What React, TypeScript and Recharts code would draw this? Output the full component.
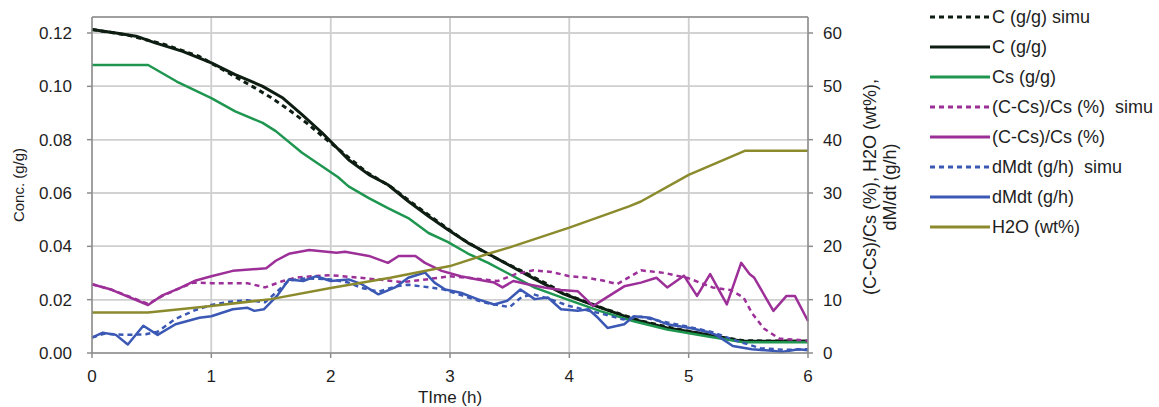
import React from 'react';
import { LineChart, Line, XAxis, YAxis, Legend, CartesianGrid } from 'recharts';

// ---- axis ticks ----
const timeTicks = [0, 1, 2, 3, 4, 5, 6];
const concTicks = [0, 0.02, 0.04, 0.06, 0.08, 0.1, 0.12];
const pctTicks = [0, 10, 20, 30, 40, 50, 60];
const concMax = 0.126;
const pctMax = 63;

// ---- C (g/g) simu ----
const cSimuT = [0, 0.3, 0.6, 0.9, 1.2, 1.35, 1.5, 1.65, 1.8, 1.95, 2.1, 2.3, 2.5, 2.7, 2.9, 3.1, 3.3, 3.5, 3.7, 4.0, 4.3, 4.6, 4.9, 5.2, 5.46, 6];
const cSimuV = [0.1213, 0.1192, 0.1158, 0.1112, 0.1036, 0.0998, 0.0958, 0.0912, 0.0862, 0.0806, 0.0752, 0.0678, 0.0625, 0.0557, 0.0492, 0.0428, 0.0375, 0.033, 0.0285, 0.0215, 0.0165, 0.012, 0.009, 0.0065, 0.0046, 0.0044];

// ---- C (g/g) ----
const cT = [0, 0.2, 0.37, 0.53, 0.76, 1.0, 1.2, 1.43, 1.6, 1.76, 1.93, 2.15, 2.32, 2.48, 2.65, 2.82, 2.98, 3.15, 3.32, 3.5, 3.7, 3.95, 4.26, 4.54, 4.82, 5.15, 5.37, 5.46, 6];
const cV = [0.1213, 0.12, 0.1188, 0.1163, 0.1131, 0.1088, 0.1044, 0.1, 0.0956, 0.0894, 0.0825, 0.0725, 0.0669, 0.0631, 0.0569, 0.0513, 0.0463, 0.0413, 0.0372, 0.0328, 0.028, 0.0222, 0.017, 0.0126, 0.0094, 0.0069, 0.005, 0.0044, 0.0044];

// ---- Cs (g/g) ----
const csT = [0, 0.47, 0.71, 1.0, 1.2, 1.43, 1.54, 1.76, 2.06, 2.15, 2.32, 2.48, 2.65, 2.82, 2.98, 3.15, 3.32, 3.48, 3.71, 3.98, 4.26, 4.54, 4.82, 5.15, 5.46, 6];
const csV = [0.108, 0.108, 0.1018, 0.0956, 0.0906, 0.0863, 0.0832, 0.0751, 0.066, 0.0625, 0.0581, 0.0543, 0.0506, 0.045, 0.0417, 0.0373, 0.0338, 0.03, 0.0245, 0.0201, 0.0157, 0.0119, 0.0088, 0.0063, 0.004, 0.004];

// ---- (C-Cs)/Cs (%) simu ----
const devSimuT = [0, 0.16, 0.47, 0.6, 0.75, 0.85, 1.0, 1.3, 1.45, 1.6, 1.7, 1.85, 2.0, 2.3, 2.6, 2.8, 3.0, 3.2, 3.4, 3.55, 3.7, 3.85, 4.0, 4.15, 4.3, 4.4, 4.6, 4.8, 5.0, 5.2, 5.35, 5.46, 5.53, 5.63, 5.76, 6];
const devSimuV = [12.9, 11.9, 9.2, 10.8, 12.3, 13.2, 13.1, 13.1, 12.3, 13.5, 14.1, 14.4, 14.6, 14.0, 13.3, 13.8, 14.4, 14.0, 13.5, 14.8, 15.5, 15.2, 14.4, 14.1, 13.5, 12.9, 15.5, 15.0, 14.0, 12.3, 11.8, 10.4, 7.5, 4.6, 2.7, 2.3];

// ---- (C-Cs)/Cs (%) ----
const devT = [0, 0.16, 0.47, 0.58, 0.73, 0.87, 1.0, 1.18, 1.46, 1.54, 1.65, 1.82, 2.05, 2.12, 2.32, 2.48, 2.57, 2.71, 2.79, 2.93, 3.09, 3.23, 3.37, 3.44, 3.53, 3.65, 3.79, 3.93, 4.07, 4.2, 4.29, 4.46, 4.6, 4.73, 4.82, 4.96, 5.07, 5.18, 5.32, 5.44, 5.51, 5.55, 5.71, 5.82, 5.89, 6];
const devV = [12.9, 11.9, 9.0, 10.7, 12.1, 13.6, 14.4, 15.4, 15.9, 17.3, 18.6, 19.3, 18.8, 19.0, 18.2, 16.9, 18.2, 18.2, 16.9, 15.4, 14.4, 13.8, 13.2, 12.3, 13.5, 12.9, 12.3, 11.8, 11.6, 8.8, 10.1, 12.5, 13.2, 14.1, 12.3, 14.5, 10.7, 14.8, 9.1, 16.9, 14.8, 14.1, 7.9, 10.7, 10.7, 6.0];

// ---- dMdt (g/h) simu ----
const dmSimuT = [0, 0.1, 0.2, 0.3, 0.45, 0.55, 0.7, 0.86, 1.0, 1.15, 1.3, 1.45, 1.55, 1.65, 1.8, 2.0, 2.15, 2.26, 2.4, 2.55, 2.65, 2.83, 2.95, 3.1, 3.3, 3.5, 3.6, 3.7, 3.85, 4.0, 4.15, 4.3, 4.45, 4.6, 4.8, 5.0, 5.2, 5.4, 5.6, 5.8, 6];
const dmSimuV = [2.9, 3.6, 3.5, 3.4, 3.5, 4.0, 6.4, 8.0, 9.0, 9.6, 9.9, 9.5, 11.5, 13.6, 14.0, 13.8, 13.2, 12.2, 11.5, 12.5, 12.8, 12.3, 11.9, 10.8, 9.4, 8.6, 10.5, 11.0, 10.0, 8.8, 8.0, 7.2, 6.3, 6.8, 5.8, 4.9, 3.9, 2.3, 0.9, 0.6, 0.7];

// ---- dMdt (g/h) ----
const dmT = [0, 0.09, 0.2, 0.3, 0.43, 0.55, 0.7, 0.9, 1.0, 1.18, 1.3, 1.36, 1.44, 1.55, 1.65, 1.77, 1.88, 2.0, 2.15, 2.26, 2.4, 2.54, 2.65, 2.79, 2.87, 2.96, 3.09, 3.23, 3.37, 3.48, 3.59, 3.71, 3.82, 3.93, 4.07, 4.16, 4.24, 4.32, 4.46, 4.54, 4.68, 4.82, 5.01, 5.15, 5.23, 5.37, 5.53, 5.7, 5.78, 5.92, 6];
const dmV = [2.9, 3.8, 3.4, 1.6, 5.1, 3.4, 5.4, 6.6, 6.9, 8.2, 8.5, 7.9, 8.2, 10.7, 13.8, 13.5, 14.4, 13.5, 13.8, 12.9, 11.0, 12.3, 14.1, 15.1, 13.2, 11.9, 11.3, 10.1, 9.1, 9.8, 11.9, 10.1, 10.4, 8.2, 7.9, 8.2, 6.6, 4.7, 5.4, 6.9, 6.6, 5.4, 4.7, 4.0, 3.4, 1.3, 0.7, 0.4, 0.2, 0.7, 0.5];

// ---- H2O (wt%) ----
const h2oT = [0, 0.47, 1.0, 1.5, 2.0, 2.5, 3.0, 3.32, 3.5, 4.0, 4.5, 4.6, 5.0, 5.47, 6];
const h2oV = [7.6, 7.6, 8.8, 10.1, 12.2, 14.1, 16.3, 18.6, 19.8, 23.5, 27.5, 28.4, 33.4, 37.9, 37.9];

const zip = (ts: number[], vs: number[]) => ts.map((t, i) => ({ t, v: vs[i] }));

type Series = { name: string; data: { t: number; v: number }[]; color: string; dash?: string; axis: string; width: number };

const FONT = '"Liberation Sans", Arial, Helvetica, sans-serif';
const AXIS = '#8c8c8c';
const GRID = '#cfcfcf';
const TEXT = '#1e1e1e';

const series: Series[] = [
  { name: 'C (g/g) simu', data: zip(cSimuT, cSimuV), color: '#0e1d12', dash: '5 4', axis: 'left', width: 3 },
  { name: 'C (g/g)', data: zip(cT, cV), color: '#0e1d12', axis: 'left', width: 3 },
  { name: 'Cs (g/g)', data: zip(csT, csV), color: '#1f9650', axis: 'left', width: 2.5 },
  { name: '(C-Cs)/Cs (%)  simu', data: zip(devSimuT, devSimuV), color: '#9c2f98', dash: '5 4', axis: 'right', width: 2.5 },
  { name: '(C-Cs)/Cs (%)', data: zip(devT, devV), color: '#9c2f98', axis: 'right', width: 2.5 },
  { name: 'dMdt (g/h)  simu', data: zip(dmSimuT, dmSimuV), color: '#3a58b4', dash: '5 4', axis: 'right', width: 2.5 },
  { name: 'dMdt (g/h)', data: zip(dmT, dmV), color: '#3a58b4', axis: 'right', width: 2.5 },
  { name: 'H2O (wt%)', data: zip(h2oT, h2oV), color: '#8b8b2e', axis: 'right', width: 2.5 },
];

// gridlines and the top frame edge, built from the tick arrays and drawn through the chart scales
const gridLevels = [...concTicks, concMax];
const gridSeries: Series[] = [
  ...timeTicks.slice(1, -1).map((t) => ({
    name: `grid t=${t}`,
    data: gridLevels.map((c) => ({ t, v: c })),
    color: GRID,
    axis: 'left',
    width: 1.5,
  })),
  ...concTicks.slice(1).map((c) => ({
    name: `grid c=${c}`,
    data: timeTicks.map((t) => ({ t, v: c })),
    color: GRID,
    axis: 'left',
    width: 1.5,
  })),
  { name: 'frame top', data: timeTicks.map((t) => ({ t, v: concMax })), color: AXIS, axis: 'left', width: 1.5 },
];

const allSeries: Series[] = [...gridSeries, ...series];

const LegendContent = (props: any) => {
  const payload: any[] = (props.payload || []).filter((e: any) => series.some((s) => s.name === e.value));
  payload.sort((a, b) => series.findIndex((s) => s.name === a.value) - series.findIndex((s) => s.name === b.value));
  return (
    <svg width={231} height={245} style={{ display: 'block' }}>
      {payload.map((e, i) => {
        const s = series.find((x) => x.name === e.value);
        const y = 17 + i * 30;
        return (
          <g key={i}>
            <line x1={2} x2={62} y1={y} y2={y} stroke={e.color} strokeWidth={3} strokeDasharray={s?.dash} />
            <text x={64} y={y} dy="0.36em" fontSize={18} fontFamily={FONT} fill={TEXT} style={{ whiteSpace: 'pre' }}>
              {e.value}
            </text>
          </g>
        );
      })}
    </svg>
  );
};

const LeftLabel = (props: any) => {
  const vb = props.viewBox || {};
  const cx = (vb.x ?? 0) + 18.5;
  const cy = (vb.y ?? 0) + (vb.height ?? 0) / 2;
  return (
    <text x={cx} y={cy} transform={`rotate(-90, ${cx}, ${cy})`} textAnchor="middle" dy="0.36em" fontSize={15} fontFamily={FONT} fill={TEXT}>
      Conc. (g/g)
    </text>
  );
};

const RightLabel = (props: any) => {
  const vb = props.viewBox || {};
  const cx = (vb.x ?? 0) + 62;
  const cy = (vb.y ?? 0) + (vb.height ?? 0) / 2 + 2;
  return (
    <text x={cx} y={cy} transform={`rotate(-90, ${cx}, ${cy})`} textAnchor="middle" fontSize={18} fontFamily={FONT} fill={TEXT}>
      <tspan x={cx} dy="0.36em">(C-Cs)/Cs (%), H2O (wt%),</tspan>
      <tspan x={cx} dy="1.1em">dM/dt (g/h)</tspan>
    </text>
  );
};

export default function App() {
  return (
    <div style={{ position: 'absolute', left: 0, top: 0, width: 1159, height: 407, background: '#fff' }}>
      <LineChart width={1159} height={407} margin={{ top: 17, right: 241, bottom: 4, left: 0 }}>
        <CartesianGrid xAxisId="bottom" yAxisId="left" stroke={GRID} strokeWidth={1.5} />
        <XAxis
          xAxisId="bottom"
          dataKey="t"
          type="number"
          domain={[0, 6]}
          ticks={timeTicks}
          height={50}
          tickSize={5}
          tickMargin={12}
          axisLine={{ stroke: AXIS, strokeWidth: 1.5 }}
          tickLine={{ stroke: AXIS, strokeWidth: 1.5 }}
          tick={{ fontSize: 17, fontFamily: FONT, fill: TEXT }}
          label={{ value: 'TIme (h)', position: 'insideBottom', offset: 0, fontSize: 17, fontFamily: FONT, fill: TEXT }}
        />
        <YAxis
          yAxisId="left"
          orientation="left"
          type="number"
          domain={[0, concMax]}
          ticks={concTicks}
          width={92}
          tickSize={5}
          tickMargin={15}
          tickFormatter={(v: number) => v.toFixed(2)}
          axisLine={{ stroke: AXIS, strokeWidth: 1.5 }}
          tickLine={{ stroke: AXIS, strokeWidth: 1.5 }}
          tick={{ fontSize: 17, fontFamily: FONT, fill: TEXT }}
          label={{ content: LeftLabel }}
        />
        <YAxis
          yAxisId="right"
          orientation="right"
          type="number"
          domain={[0, pctMax]}
          ticks={pctTicks}
          width={110}
          tickSize={5}
          tickMargin={10}
          axisLine={{ stroke: AXIS, strokeWidth: 1.5 }}
          tickLine={{ stroke: AXIS, strokeWidth: 1.5 }}
          tick={{ fontSize: 17, fontFamily: FONT, fill: TEXT }}
          label={{ content: RightLabel }}
        />
        <Legend
          layout="horizontal"
          align="center"
          verticalAlign="middle"
          content={LegendContent}
          wrapperStyle={{ left: 928, top: 0, width: 231, height: 245 }}
        />
        {allSeries.map((s) => (
          <Line
            key={s.name}
            name={s.name}
            data={s.data}
            dataKey="v"
            xAxisId="bottom"
            yAxisId={s.axis}
            type="linear"
            stroke={s.color}
            strokeWidth={s.width}
            strokeDasharray={s.dash}
            strokeLinejoin="round"
            dot={false}
            activeDot={false}
            legendType="line"
            isAnimationActive={false}
          />
        ))}
      </LineChart>
    </div>
  );
}
